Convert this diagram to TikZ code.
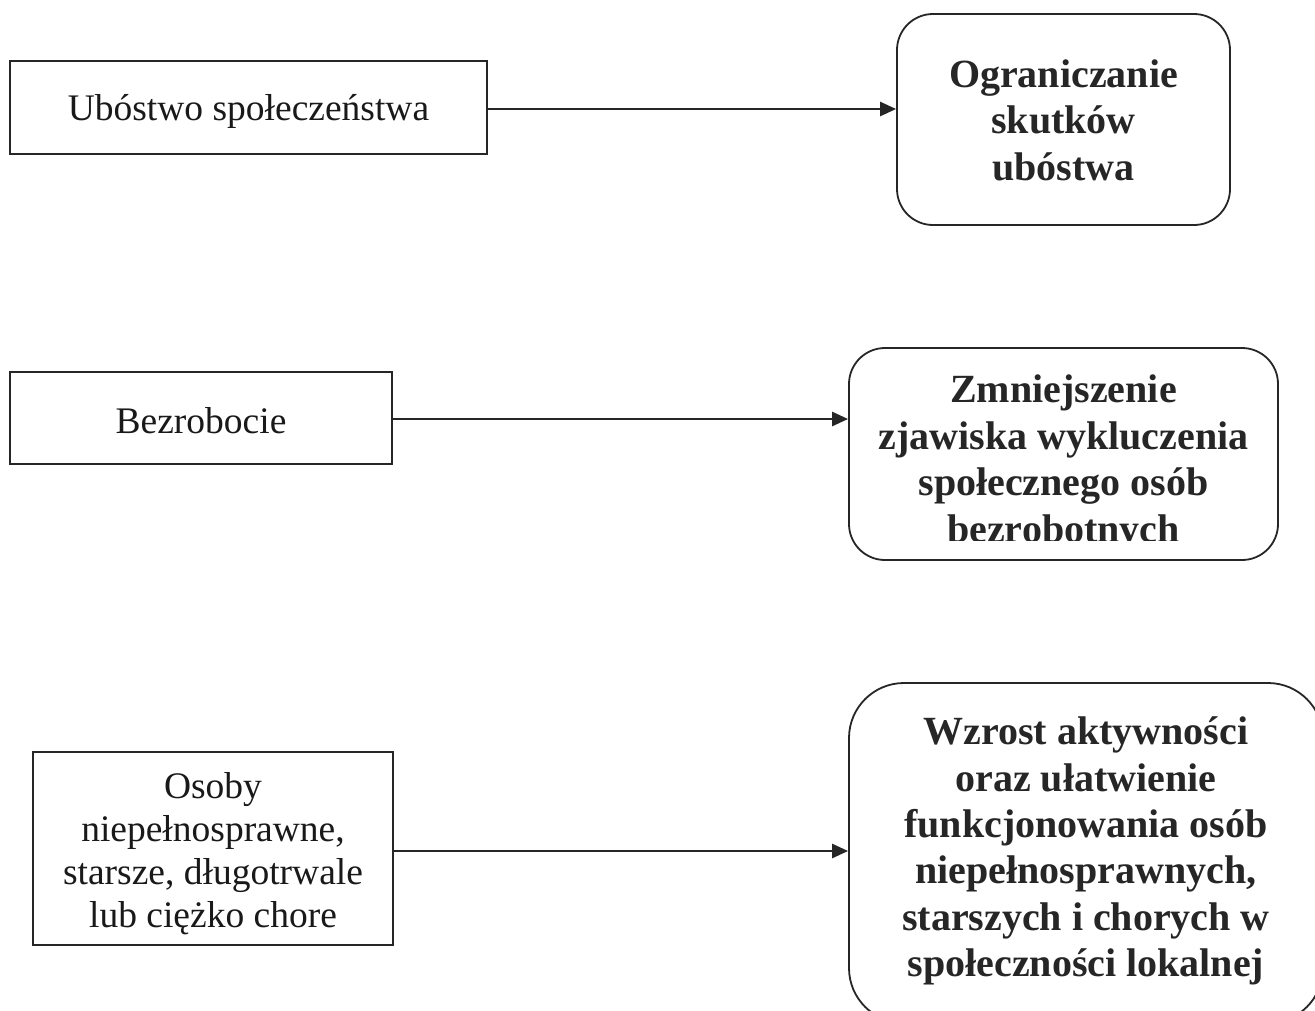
\documentclass[tikz,border=0pt]{standalone}
\usepackage{fontspec}
\setmainfont{Liberation Serif}
\usetikzlibrary{arrows.meta}
\begin{document}
\begin{tikzpicture}[x=1pt,y=-1pt,
  srcbox/.style={draw=black!85,line width=1.6pt,inner sep=0pt},
  srctext/.style={inner sep=0pt,align=center,text=black!90,
    font=\fontsize{37.5}{43}\selectfont},
  goalbox/.style={draw=black!85,line width=1.8pt,inner sep=0pt,rounded corners=36pt},
  goaltext/.style={inner sep=0pt,align=center,text=black!85,
    font=\fontsize{40}{46.4}\selectfont\bfseries},
  link/.style={line width=2.6pt,draw=black!85,-{Triangle[length=16pt,width=14pt]}}]
\useasboundingbox[fill=white] (0,0) rectangle (1315,1010);
% row 1
\node[srcbox,minimum width=477pt,minimum height=93pt] (s1) at (248.5,107.5) {};
\node[srctext] (u1) at (248.5,111) {Ubóstwo społeczeństwa};
\node[goalbox,minimum width=333pt,minimum height=211pt] (g1) at (1063.5,119.5) {};
\node[goaltext] (t1) at (1063.5,120) {Ograniczanie\\skutków\\ubóstwa};
\draw[link] ([yshift=-1.5pt]s1.east) -- ([yshift=-1.5pt]s1.east -| g1.west);
% row 2
\node[srcbox,minimum width=382pt,minimum height=92pt] (s2) at (201,418) {};
\node[srctext] (u2) at (201,420.5) {Bezrobocie};
\node[goalbox,minimum width=429pt,minimum height=212pt] (g2) at (1063.5,454) {};
\begin{scope}
\clip (849,348) rectangle (1278,540);
\node[goaltext] (t2) at (1063.5,463) {Zmniejszenie\\zjawiska wykluczenia\\społecznego osób\\bezrobotnych};
\end{scope}
\draw[link] ([yshift=-1pt]s2.east) -- ([yshift=-1pt]s2.east -| g2.west);
% row 3
\node[srcbox,minimum width=360pt,minimum height=193pt] (s3) at (213,848.5) {};
\node[srctext] (u3) at (213,853.5) {Osoby\\niepełnosprawne,\\starsze, długotrwale\\lub ciężko chore};
\node[goalbox,rounded corners=55pt,minimum width=474pt,minimum height=340pt] (g3) at (1086,853) {};
\node[goaltext] (t3) at (1086,851) {Wzrost aktywności\\oraz ułatwienie\\funkcjonowania osób\\niepełnosprawnych,\\starszych i chorych w\\społeczności lokalnej};
\draw[link] ([yshift=-2.5pt]s3.east) -- ([yshift=-2.5pt]s3.east -| g3.west);
\end{tikzpicture}
\end{document}
